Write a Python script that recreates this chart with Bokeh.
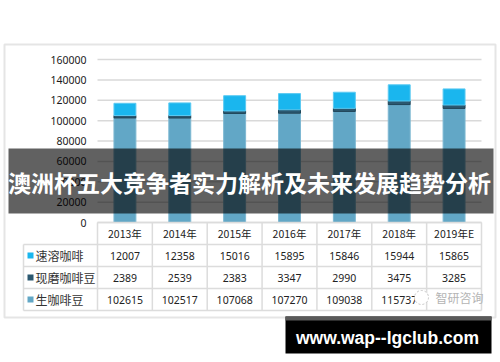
from bokeh.plotting import figure
from bokeh.models import (Range1d, FixedTicker, ColumnDataSource, BoxAnnotation,
                          Label, LabelSet, PrintfTickFormatter)
from bokeh.core.properties import value
from bokeh.embed import file_html
from bokeh.resources import INLINE

# ---- data ----
years = ["2013年", "2014年", "2015年", "2016年", "2017年", "2018年", "2019年E"]
instant = [12007, 12358, 15016, 15895, 15846, 15944, 15865]      # 速溶咖啡
ground = [2389, 2539, 2383, 3347, 2990, 3475, 3285]              # 现磨咖啡豆
green = [102615, 102517, 107068, 107270, 109038, 115737, 112000] # 生咖啡豆
series_names = ["速溶咖啡", "现磨咖啡豆", "生咖啡豆"]
y_ticks = [0, 20000, 40000, 60000, 80000, 100000, 120000, 140000, 160000]
title_text = "澳洲杯五大竞争者实力解析及未来发展趋势分析"
url_text = "www.wap--lgclub.com"
watermark = "智研咨询"

col_green = "#62a7c6"
col_ground = "#2b5870"
col_instant = "#1ab6ee"

# ---- layout (figure px) ----
W, H = 500, 362
PL, PR = 97, 481            # plot-area (category) edges in px
FB = 310                    # table bottom in px
ROW = 22.0
ZERO = 222                  # pixel of value 0
TOP = 59                    # pixel of 160000
k = 160000 / (ZERO - TOP)
n = len(years)
ux = (PR - PL) / n

p = figure(width=W, height=H, output_backend="svg", toolbar_location=None,
           x_range=Range1d(-0.5 - PL / ux, -0.5 + (W - PL) / ux),
           y_range=Range1d(-(H - ZERO) * k, ZERO * k),
           min_border_left=0, min_border_right=0,
           min_border_top=0, min_border_bottom=0)
p.extra_y_ranges = {"table": Range1d(-(H - FB) / ROW, FB / ROW)}
p.outline_line_color = None
p.background_fill_color = "white"
p.border_fill_color = "white"

# pixel helpers for decorations (px -> data coords)
def xd(px):
    return -0.5 + (px - PL) / ux

def ty(py):
    return (FB - py) / ROW

# axes
p.xaxis.visible = False
yax = p.yaxis[0]
yax.ticker = FixedTicker(ticks=y_ticks)
yax.formatter = PrintfTickFormatter(format="%d")
yax.axis_line_color = None
yax.major_tick_line_color = None
yax.minor_tick_line_color = None
yax.major_tick_out = 0
yax.major_tick_in = 0
yax.major_label_standoff = -86
yax.major_label_text_font = "Noto Sans"
yax.major_label_text_font_size = "10.5px"
yax.major_label_text_color = "#1a1a1a"
p.xgrid.visible = False
p.ygrid.visible = False

# horizontal value grid inside the plot area
p.segment(x0=[-0.5] * len(y_ticks), y0=y_ticks, x1=[n - 0.5] * len(y_ticks),
          y1=y_ticks, line_color="#d9d9d9", line_width=1.5)

# bars
src = ColumnDataSource(dict(x=list(range(n)), green=green, ground=ground, instant=instant))
p.vbar_stack(["green", "ground", "instant"], x="x", width=0.4, source=src,
             fill_color=[col_green, col_ground, col_instant],
             line_color=["#7db8d2", "#1e4356", "#5ccaf2"], line_width=1)

# table grid
hy = [0, 1, 2, 3, 4]
hx0 = [xd(23)] * 4 + [-0.5]
hx1 = [n - 0.5] * 5
p.segment(x0=hx0, y0=hy, x1=hx1, y1=hy, y_range_name="table",
          line_color="#dcdcdc", line_width=1.5)
vx = [i - 0.5 for i in range(n + 1)]
p.segment(x0=vx, y0=[0] * len(vx), x1=vx, y1=[4] * len(vx), y_range_name="table",
          line_color="#dcdcdc", line_width=1.5)
p.segment(x0=[xd(23)], y0=[0], x1=[xd(23)], y1=[3], y_range_name="table",
          line_color="#dcdcdc", line_width=1.5)

# table text
hdr = ColumnDataSource(dict(x=list(range(n)), y=[3.5] * n, t=years))
p.text(x="x", y="y", text="t", source=hdr, y_range_name="table",
       text_align="center", text_baseline="middle",
       text_font=value("Noto Sans CJK SC"), text_font_size="10.5px",
       text_color="#222222")
rows = [(instant, 2.5), (ground, 1.5), (green, 0.5)]
for vals, yy in rows:
    labels = [str(v) for v in vals]
    if vals is green:
        labels[-1] = ""   # hidden under the watermark in the original
    s = ColumnDataSource(dict(x=list(range(n)), y=[yy] * n, t=labels))
    p.text(x="x", y="y", text="t", source=s, y_range_name="table",
           text_align="center", text_baseline="middle",
           text_font=value("Noto Sans"), text_font_size="10.5px",
           text_color="#222222")

# legend column
sq_cols = [col_instant, col_ground, col_green]
for i, c in enumerate(sq_cols):
    yc = 2.5 - i
    p.add_layout(BoxAnnotation(left=xd(27), right=xd(33), bottom=yc - 3 / ROW,
                               top=yc + 3 / ROW, y_range_name="table",
                               fill_color=c, fill_alpha=1, line_color=None))
leg = ColumnDataSource(dict(x=[xd(35)] * 3, y=[2.5, 1.5, 0.5], t=series_names))
p.add_layout(LabelSet(x="x", y="y", text="t", source=leg, y_range_name="table",
                      text_baseline="middle", text_align="left",
                      text_font=value("Noto Sans CJK SC"), text_font_size="12px",
                      text_color="#333333"))

# outer frame
p.add_layout(BoxAnnotation(left=xd(4), right=xd(495), top=ty(44), bottom=ty(317),
                           y_range_name="table", fill_alpha=0,
                           line_color="#a8a8a8", line_width=2))

# watermark (icon + text)
p.scatter(x=[xd(421)], y=[ty(297)], y_range_name="table", marker="circle",
          size=14, fill_color="white", line_color="#c4c4c4", line_width=1,
          line_dash="2 2")
p.add_layout(Label(x=xd(435), y=ty(297), text=watermark, y_range_name="table",
                   text_baseline="middle", text_font="Noto Sans CJK SC",
                   text_font_size="12px", text_color="#b4b4b4"))

# overlay banner
p.add_layout(BoxAnnotation(left=xd(8), right=xd(493), top=ty(148), bottom=ty(213),
                           y_range_name="table", fill_color="black",
                           fill_alpha=0.62, line_color=None))
p.add_layout(Label(x=xd(249), y=ty(181), text=title_text, y_range_name="table",
                   text_align="center", text_baseline="middle",
                   text_font="Noto Sans CJK SC", text_font_style="bold",
                   text_font_size="23px", text_color="white"))

# bottom url box
p.add_layout(BoxAnnotation(left=xd(285), right=xd(491), top=ty(316), bottom=ty(353),
                           y_range_name="table", fill_color="black", fill_alpha=1,
                           line_color=None))
p.add_layout(BoxAnnotation(left=xd(285), right=xd(491), top=ty(316), bottom=ty(320),
                           y_range_name="table", fill_color="#5a5a5a", fill_alpha=1,
                           line_color=None))
p.add_layout(Label(x=xd(387), y=ty(337), text=url_text, y_range_name="table",
                   text_align="center", text_baseline="middle",
                   text_font="Liberation Sans", text_font_style="bold",
                   text_font_size="17.5px", text_color="white"))

open("out.html", "w").write(file_html(p, INLINE))
